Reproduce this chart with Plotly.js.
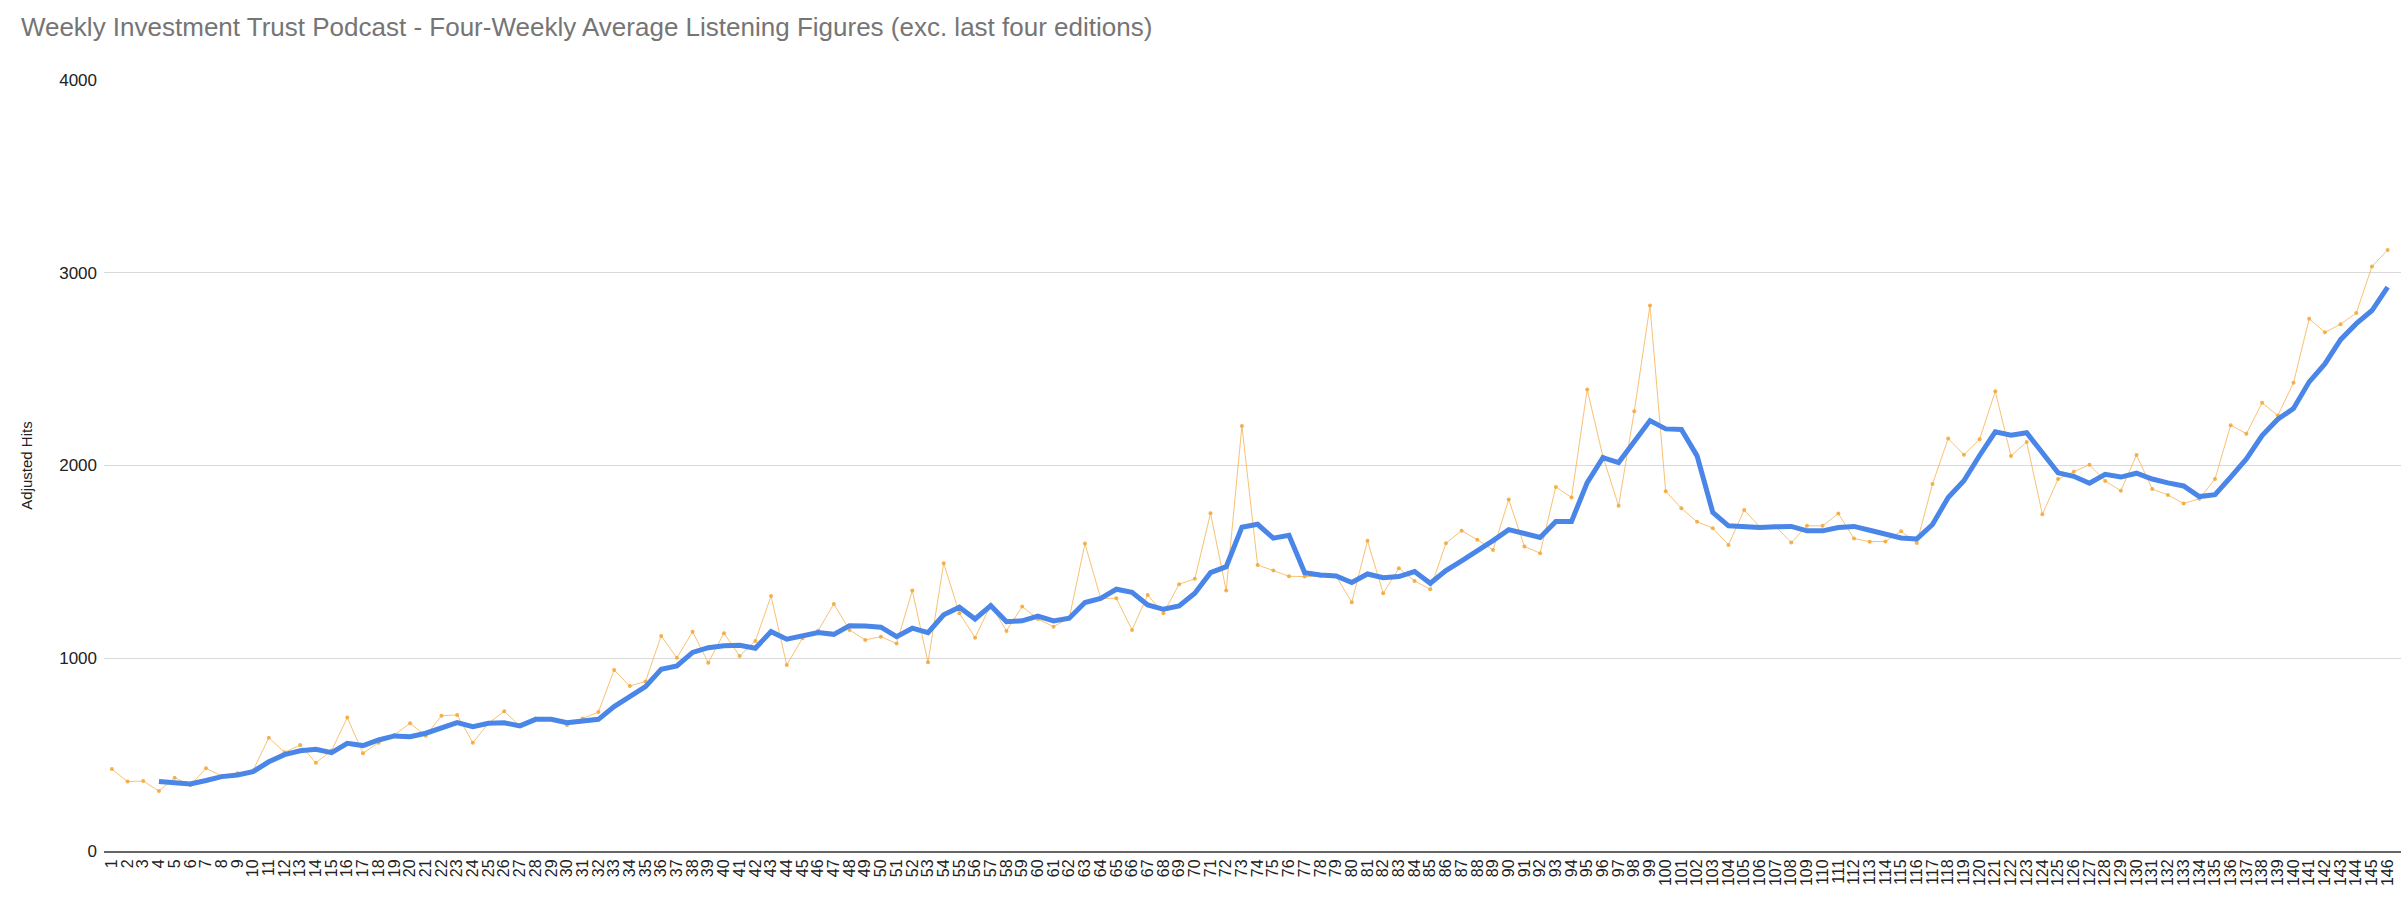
<!DOCTYPE html>
<html>
<head>
<meta charset="utf-8">
<script src="https://cdn.plot.ly/plotly-3.0.1.min.js"></script>
<style>
  html, body { margin: 0; padding: 0; background: #ffffff; }
  #chart { width: 2401px; height: 905px; }
</style>
</head>
<body>
<div id="chart"></div>
<script>
const episodes = [1,2,3,4,5,6,7,8,9,10,11,12,13,14,15,16,17,18,19,20,21,22,23,24,25,26,27,28,29,30,31,32,33,34,35,36,37,38,39,40,41,42,43,44,45,46,47,48,49,50,51,52,53,54,55,56,57,58,59,60,61,62,63,64,65,66,67,68,69,70,71,72,73,74,75,76,77,78,79,80,81,82,83,84,85,86,87,88,89,90,91,92,93,94,95,96,97,98,99,100,101,102,103,104,105,106,107,108,109,110,111,112,113,114,115,116,117,118,119,120,121,122,123,124,125,126,127,128,129,130,131,132,133,134,135,136,137,138,139,140,141,142,143,144,145,146];

const adjustedHits = [425,360,363,311,380,342,429,389,403,417,588,512,550,458,521,692,507,562,602,663,598,702,706,562,663,725,649,688,683,654,687,721,939,856,879,1116,1002,1138,977,1130,1012,1090,1323,965,1104,1143,1282,1147,1095,1112,1076,1351,979,1493,1233,1107,1277,1142,1268,1204,1164,1208,1595,1311,1311,1147,1328,1233,1384,1412,1752,1351,2205,1484,1455,1425,1424,1427,1427,1290,1610,1337,1467,1401,1358,1597,1662,1615,1562,1824,1580,1545,1889,1834,2394,2047,1791,2281,2830,1867,1778,1708,1675,1588,1769,1682,1684,1600,1687,1687,1751,1621,1605,1606,1659,1598,1904,2140,2056,2136,2385,2049,2122,1747,1930,1967,2004,1920,1869,2054,1878,1847,1803,1827,1930,2209,2165,2325,2259,2429,2761,2691,2733,2791,3033,3118];

const fourWeekAverage = [null,null,null,360,355,348,366,386,394,412,463,500,520,528,510,559,547,576,597,593,611,640,666,645,663,665,649,683,683,666,675,683,749,804,853,943,960,1030,1055,1065,1067,1052,1138,1099,1119,1133,1124,1169,1167,1161,1112,1156,1133,1225,1265,1204,1273,1190,1194,1219,1194,1208,1289,1311,1358,1342,1277,1254,1271,1337,1444,1475,1680,1695,1623,1638,1444,1432,1427,1393,1437,1418,1424,1450,1389,1455,1505,1555,1610,1667,1650,1627,1710,1710,1911,2041,2015,2124,2233,2190,2187,2050,1757,1687,1684,1678,1682,1684,1661,1661,1678,1684,1664,1641,1624,1619,1694,1834,1921,2052,2175,2157,2170,2066,1962,1944,1908,1954,1940,1960,1930,1910,1894,1839,1849,1940,2034,2155,2240,2296,2434,2527,2653,2736,2804,2925];

const yTicks = [0, 1000, 2000, 3000, 4000];

const FONT = 'Arial, "Liberation Sans", sans-serif';

const traces = [
  {
    x: episodes,
    y: adjustedHits,
    type: 'scatter',
    mode: 'lines+markers',
    name: 'Adjusted Hits',
    line: { color: 'rgba(246,178,80,0.8)', width: 1 },
    marker: { color: 'rgba(244,168,58,0.9)', size: 4 },
    hoverinfo: 'x+y'
  },
  {
    x: episodes,
    y: fourWeekAverage,
    type: 'scatter',
    mode: 'lines',
    name: 'Four-weekly average',
    connectgaps: false,
    line: { color: '#4a86e8', width: 5 },
    hoverinfo: 'x+y'
  }
];

const layout = {
  width: 2401,
  height: 905,
  paper_bgcolor: '#ffffff',
  plot_bgcolor: '#ffffff',
  showlegend: false,
  margin: { l: 104, r: 0, t: 80, b: 54, pad: 0 },
  font: { family: FONT, color: '#222222', size: 14 },
  title: {
    text: 'Weekly Investment Trust Podcast - Four-Weekly Average Listening Figures (exc. last four editions)',
    font: { family: FONT, size: 26, color: '#757575' },
    xref: 'container', x: 0.0087, xanchor: 'left',
    yref: 'container', y: 0.97, yanchor: 'middle'
  },
  xaxis: {
    type: 'category',
    range: [-0.5, 145.85],
    tickmode: 'array',
    tickvals: episodes,
    ticktext: episodes.map(String),
    tickangle: -90,
    tickfont: { family: FONT, size: 16, color: '#222222' },
    showgrid: false,
    showline: true,
    linecolor: '#666666',
    linewidth: 2,
    ticks: '',
    zeroline: false,
    fixedrange: true
  },
  yaxis: {
    range: [0, 4000],
    tickvals: yTicks,
    ticktext: yTicks.map(String),
    tickfont: { family: FONT, size: 17, color: '#222222' },
    ticklabelstandoff: 6,
    showgrid: true,
    gridcolor: '#d9d9d9',
    gridwidth: 1,
    zeroline: false,
    showline: false,
    ticks: '',
    title: { text: 'Adjusted Hits', font: { family: FONT, size: 15, color: '#222222' }, standoff: 22 },
    fixedrange: true
  }
};

Plotly.newPlot('chart', traces, layout, { displayModeBar: false, staticPlot: true });
</script>
</body>
</html>
